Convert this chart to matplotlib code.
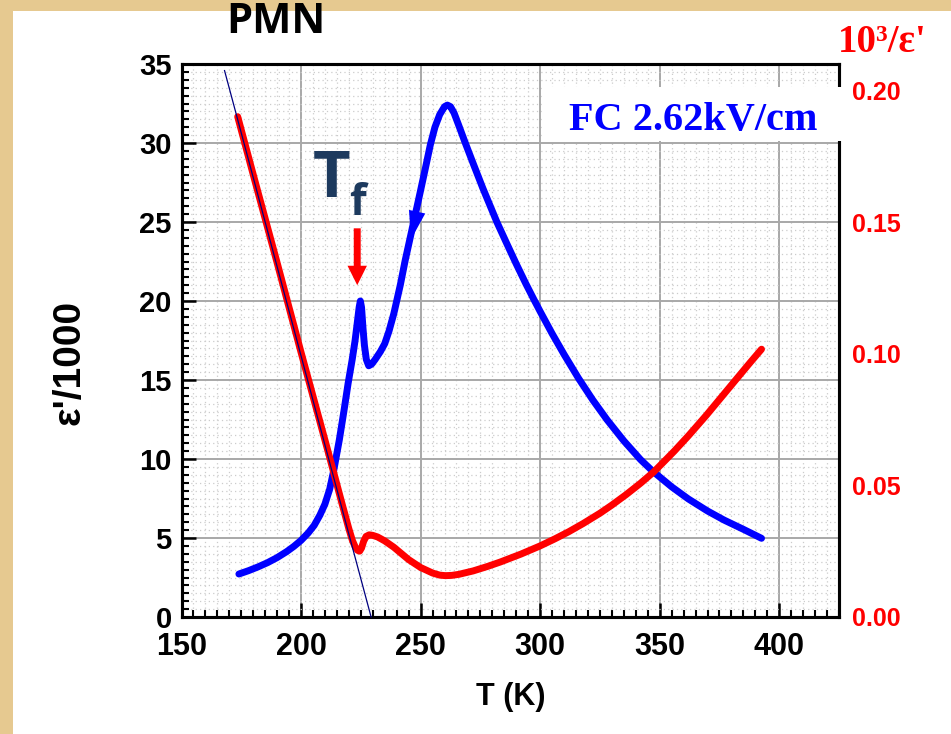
import matplotlib
matplotlib.use("Agg")
import matplotlib.pyplot as plt
from matplotlib.patches import Rectangle
from matplotlib.ticker import MultipleLocator, FormatStrFormatter

# eps'/1000 (left axis), FC 2.62 kV/cm
T_eps = [174, 178, 182, 186, 190, 194, 197, 200, 203, 205.5, 207.9, 210, 212,
         213.7, 216, 217.9, 219.7, 221.4, 222.6, 223.5, 224.3, 224.8, 225.3,
         225.9, 226.5, 227.3, 228.3, 229.5, 231, 233.2, 235, 236.8, 238.8, 241.5,
         243.6, 247.1, 250, 252, 254.1, 256, 258, 260, 261.2, 262.5, 264, 266,
         268.7, 272, 276, 281.9, 286, 290, 294, 297.2, 300, 305, 310, 316, 322,
         328, 335, 342, 347, 355, 362, 370, 377, 385, 392.6]
eps = [2.72, 2.93, 3.17, 3.44, 3.76, 4.14, 4.47, 4.85, 5.32, 5.8, 6.45, 7.15, 8.1,
       9.3, 11.2, 13.0, 14.8, 16.3, 17.5, 18.6, 19.6, 20.0, 19.6,
       18.3, 17.2, 16.3, 15.9, 16.0, 16.3, 16.8, 17.3, 18.1, 19.2, 21.0,
       22.6, 25.0, 27.0, 28.4, 29.9, 31.0, 31.8, 32.3, 32.4, 32.3, 31.9, 31.1,
       30.0, 28.7, 27.15, 25.0, 23.65, 22.35, 21.1, 20.15, 19.34, 17.94, 16.62,
       15.12, 13.74, 12.48, 11.15, 9.96, 9.24, 8.24, 7.47, 6.71, 6.13, 5.55, 4.98]

# 10^3/eps' (right axis)
T_inv = [173.5, 180, 190, 200, 206, 212, 217, 220, 221.5, 222.7, 223.7, 224.5,
         225.3, 226.2, 227.2, 228.5, 230, 232, 235, 238.8, 241.3, 245, 250, 255,
         258, 260.4, 263, 266, 272, 278, 283.4, 292, 300, 306, 312, 318, 325,
         330, 336, 342, 347.4, 352, 356, 362, 369.6, 376, 383.5, 388, 392.6]
inv_eps = [0.190, 0.168, 0.1345, 0.1005, 0.0805, 0.0605, 0.0435, 0.0335, 0.029,
           0.0265, 0.0253, 0.0250, 0.0262, 0.0288, 0.0306, 0.0312, 0.0310,
           0.0304, 0.0289, 0.0265, 0.0246, 0.0218, 0.0188, 0.0167, 0.0159,
           0.0157, 0.0158, 0.0162, 0.0175, 0.0192, 0.0209, 0.0239, 0.0270,
           0.0296, 0.0324, 0.0355, 0.0394, 0.0425, 0.0465, 0.0508, 0.0550,
           0.0592, 0.0629, 0.0688, 0.0767, 0.0837, 0.0919, 0.0968, 0.1017]

# Curie-Weiss fit line (right axis)
T_fit = [168, 229.3]
inv_fit = [0.2075, 0.0]

x_ticks = [150, 200, 250, 300, 350, 400]
y_ticks = [0, 5, 10, 15, 20, 25, 30, 35]
y2_ticks = [0.00, 0.05, 0.10, 0.15, 0.20]

W, H = 951, 734
fig = plt.figure(figsize=(W / 100, H / 100), dpi=100)
fig.patch.set_facecolor("#e6c990")
# white page over the parchment
fig.add_artist(Rectangle((13 / W, 0), 1 - 13 / W, 1 - 11 / H, transform=fig.transFigure,
                         facecolor="white", edgecolor="none", zorder=-1))

ax = fig.add_axes([181.5 / W, 1 - 617 / H, (839 - 181.5) / W, (617 - 64) / H])
ax.set_facecolor("white")
ax2 = ax.twinx()

ax.set_xlim(150, 425)
ax.set_ylim(0, 35)
ax2.set_ylim(0, 0.21)

# grid
ax.xaxis.set_minor_locator(MultipleLocator(5))
ax.yaxis.set_minor_locator(MultipleLocator(0.5))
ax.grid(which="major", color="#a8a8a8", lw=1.4, ls="-")
ax.grid(which="minor", color="#cccccc", lw=0.9, ls=(0, (1, 2.5)))
ax.set_axisbelow(True)

ax.plot(T_eps, eps, color="#0000ff", lw=5, solid_capstyle="round",
        solid_joinstyle="round", zorder=3)
ax2.plot(T_inv, inv_eps, color="#ff0000", lw=5, solid_capstyle="round",
         solid_joinstyle="round", zorder=3)
ax2.plot(T_fit, inv_fit, color="#000080", lw=0.9, zorder=4, clip_on=False)

# arrow marker on the blue curve
ax.annotate("", xy=(246.0, 23.9), xytext=(248.9, 25.9),
            arrowprops=dict(arrowstyle="simple,head_length=0.85,head_width=0.5,tail_width=0.05",
                            color="#0000ff", lw=0, mutation_scale=24,
                            shrinkA=0, shrinkB=0), zorder=4)
# Tf arrow
ax.annotate("", xy=(223.5, 21.0), xytext=(223.5, 24.6),
            arrowprops=dict(arrowstyle="simple,head_length=0.7,head_width=0.7,tail_width=0.25",
                            color="#ff0000", lw=0, mutation_scale=20,
                            shrinkA=0, shrinkB=0), zorder=4)

# ticks
ax.set_xticks(x_ticks)
ax.set_yticks(y_ticks)
ax2.set_yticks(y2_ticks)
ax2.yaxis.set_major_formatter(FormatStrFormatter("%.2f"))

ax.tick_params(axis="x", which="major", pad=11, labelsize=22)
ax.tick_params(axis="y", which="major", pad=7, labelsize=21)
ax.tick_params(axis="both", which="major", direction="in", length=10, width=1.8,
               top=False, right=False)
ax.tick_params(axis="both", which="minor", direction="in", length=5, width=1.5,
               top=False, right=False)
ax2.tick_params(axis="y", which="both", length=0, labelsize=18, pad=9,
                labelcolor="#ff0000")
for lab in ax.get_xticklabels() + ax.get_yticklabels() + ax2.get_yticklabels():
    lab.set_fontfamily("Liberation Sans")
    lab.set_fontweight("bold")

for a in (ax, ax2):
    for s in a.spines.values():
        s.set_linewidth(2.2)
        s.set_color("black")

# labels
fig.text(70 / W, 1 - 362 / H, "ε'/1000", rotation=90, ha="center", va="center",
         fontsize=28, fontweight="bold", family="Liberation Sans")
fig.text(511 / W, 1 - 697 / H, "T (K)", ha="center", va="center",
         fontsize=22, fontweight="bold", family="Liberation Sans")
fig.text(276 / W, 1 - 33 / H, "PMN", ha="center", va="baseline",
         fontsize=30, fontweight="bold", family="Open Sans")
fig.text(838 / W, 1 - 52 / H, "10³/ε'", ha="left", va="baseline", color="#ff0000",
         fontsize=28, fontweight="bold", family="Liberation Serif")

# Tf label
fig.text(313 / W, 1 - 197 / H, "T", ha="left", va="baseline", color="#1d3a5e",
         fontsize=47, fontweight="bold", family="Open Sans")
fig.text(349 / W, 1 - 215 / H, "f", ha="left", va="baseline", color="#1d3a5e",
         fontsize=31, fontweight="bold", family="Open Sans")

# white label box over the right spine
fig.add_artist(Rectangle((542 / W, 1 - 141 / H), (850 - 542) / W, (141 - 87) / H,
                         transform=fig.transFigure, facecolor="white",
                         edgecolor="none", zorder=5))
fig.text(569 / W, 1 - 130 / H, "FC 2.62kV/cm", ha="left", va="baseline",
         color="#0000ff", fontsize=29, fontweight="bold", family="Liberation Serif",
         zorder=6)

fig.savefig("out.png", dpi=100)
